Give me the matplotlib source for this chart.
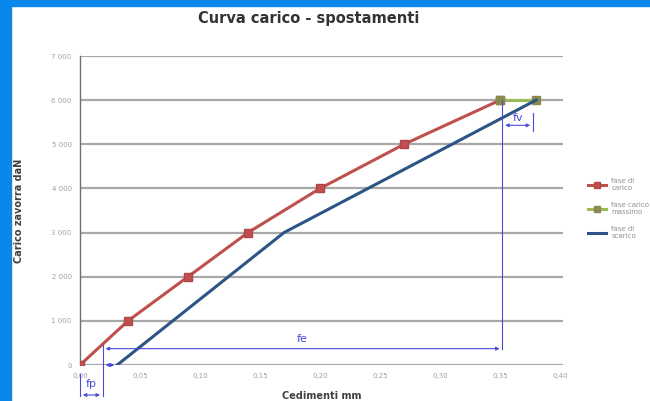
import numpy as np
import matplotlib.pyplot as plt
from matplotlib.patches import Rectangle

# dati
carico_x = [0.00, 0.04, 0.09, 0.14, 0.20, 0.27, 0.35]
carico_y = [0, 1000, 2000, 3000, 4000, 5000, 6000]
massimo_x = [0.35, 0.38]
massimo_y = [6000, 6000]
scarico_x = [0.38, 0.17, 0.031]
scarico_y = [6000, 3000, 0]
x_ticks = [0.00, 0.05, 0.10, 0.15, 0.20, 0.25, 0.30, 0.35, 0.40]
y_ticks = [0, 1000, 2000, 3000, 4000, 5000, 6000, 7000]
fp_val = 0.019
fe_end = 0.352
fv_end = 0.3775

ANN = '#4a4ad8'

fig = plt.figure(figsize=(6.5, 4.01), dpi=100)
fig.patch.set_facecolor('white')
# cornice blu
fig.patches.append(Rectangle((0, 0), 11 / 650, 1, transform=fig.transFigure,
                             color='#0a87ea', zorder=0))
fig.patches.append(Rectangle((0, 1 - 6 / 401), 1, 6 / 401, transform=fig.transFigure,
                             color='#0a87ea', zorder=0))

ax = fig.add_axes([80 / 650, 36 / 401, 483 / 650, 309 / 401])
ax.set_xlim(0, 0.4025)
ax.set_ylim(0, 7000)

for yv in y_ticks:
    ax.axhline(yv, color='#a8a8a8', lw=1.6, zorder=1)
for s in ['top', 'right', 'bottom']:
    ax.spines[s].set_visible(False)
ax.spines['left'].set_color('#707070')
ax.spines['left'].set_linewidth(1.0)

ax.set_xticks(x_ticks)
ax.set_xticklabels([f'{v:.2f}'.replace('.', ',') for v in x_ticks])
ax.set_yticks(y_ticks)
ax.set_yticklabels(['0'] + [f'{v // 1000} 000' for v in y_ticks[1:]])
ax.tick_params(axis='both', length=0, labelsize=5, colors='#a0a0a0', pad=6)

ax.plot(carico_x, carico_y, color='#c0504d', lw=2.2, marker='s', ms=6,
        mfc='#c0504d', mec='#b04545', label='fase di\ncarico', zorder=3)
ax.plot(massimo_x, massimo_y, color='#9bbb59', lw=2.2, marker='s', ms=6,
        mfc='#8a8a50', mec='#8a8a50', label='fase carico\nmassimo', zorder=3)
ax.plot(scarico_x, scarico_y, color='#2c5585', lw=2.2, label='fase di\nscarico', zorder=3)

# quote fe, fp, fv
kw = dict(arrowstyle='<|-|>', color=ANN, lw=0.8, mutation_scale=5)
ax.annotate('', xy=(fp_val, 370), xytext=(fe_end, 370), arrowprops=kw, zorder=4)
ax.text((fp_val + fe_end) / 2, 480, 'fe', color=ANN, fontsize=8, ha='center', va='bottom')
ax.plot([fe_end, fe_end], [6000, 370], color=ANN, lw=0.8, zorder=4)
ax.plot([fp_val, fp_val], [450, -700], color=ANN, lw=0.8, clip_on=False, zorder=4)
ax.plot([0, 0], [-200, -700], color=ANN, lw=0.8, clip_on=False, zorder=4)
ax.annotate('', xy=(0, -680), xytext=(fp_val, -680), arrowprops=kw,
            annotation_clip=False, zorder=4)
ax.text(fp_val / 2, -420, 'fp', color=ANN, fontsize=8, ha='center', va='center',
        clip_on=False)
ax.annotate('', xy=(fp_val, 0), xytext=(scarico_x[-1], 0), arrowprops=kw, zorder=4)
ax.annotate('', xy=(fe_end, 5430), xytext=(fv_end, 5430), arrowprops=kw, zorder=4)
ax.plot([fv_end, fv_end], [5300, 5700], color=ANN, lw=0.8, zorder=4)
ax.text((fe_end + fv_end) / 2, 5480, 'fv', color=ANN, fontsize=8, ha='center', va='bottom')

ax.set_xlabel('Cedimenti mm', fontsize=7, fontweight='bold', color='#404040')
ax.set_ylabel('Carico zavorra daN', fontsize=7, fontweight='bold', color='#404040')
ax.xaxis.set_label_coords(0.5, -0.085)
ax.yaxis.set_label_coords(-0.115, 0.5)

fig.text(0.475, 0.955, 'Curva carico - spostamenti', ha='center', va='center',
         fontsize=10.5, fontweight='bold', color='#333333')

leg = fig.legend(loc='upper left', bbox_to_anchor=(582 / 650, 1 - 172 / 401),
                 frameon=False, fontsize=5, labelspacing=1.6, handlelength=2.5,
                 markerscale=0.8)
for t in leg.get_texts():
    t.set_color('#909090')

fig.savefig('out.png', dpi=100)
